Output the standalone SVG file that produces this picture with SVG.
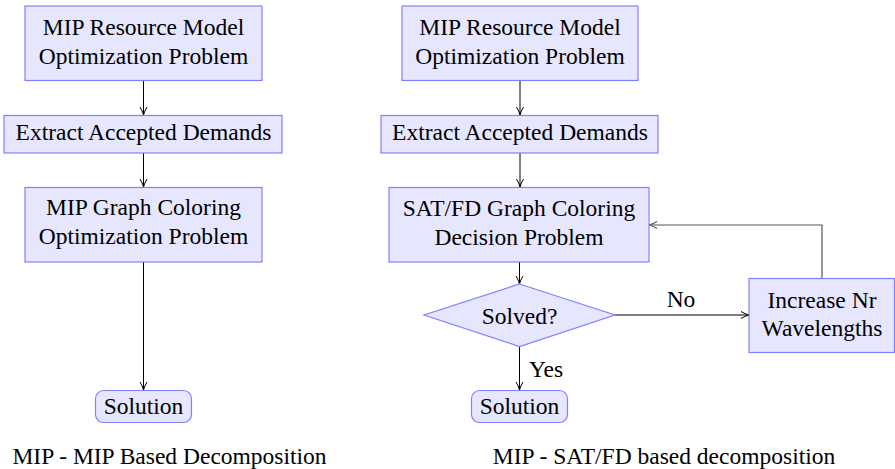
<svg xmlns="http://www.w3.org/2000/svg" width="895" height="469" viewBox="0 0 895 469">
<style>
.n{fill:#e6e6ff;stroke:#8080ff;stroke-width:1.2}
.t{font-family:'Liberation Serif','Times New Roman',Times,Tinos,'Nimbus Roman','Nimbus Roman No9 L','FreeSerif','Noto Serif','DejaVu Serif',Georgia,serif;font-size:23.5px;fill:#000;text-anchor:middle}
.c{fill:none;stroke:#000;stroke-width:1}
.g{fill:none;stroke:#555;stroke-width:1.2}
</style>
<defs>
<marker id="a" viewBox="0 0 10 10" refX="9" refY="5" markerWidth="10" markerHeight="10" markerUnits="userSpaceOnUse" orient="auto">
<path d="M1,1.5 Q5,4 9,5 Q5,6 1,8.5" fill="none" stroke="#000" stroke-width="1"/>
</marker>
<marker id="ag" viewBox="0 0 10 10" refX="9" refY="5" markerWidth="10" markerHeight="10" markerUnits="userSpaceOnUse" orient="auto">
<path d="M1,1.5 Q5,4 9,5 Q5,6 1,8.5" fill="none" stroke="#555" stroke-width="1.1"/>
</marker>
</defs>
<g id="connectors">
<path class="c" d="M143.5,81 V115" marker-end="url(#a)"/>
<path class="c" d="M143.5,153 V187" marker-end="url(#a)"/>
<path class="c" d="M143.5,262 V390" marker-end="url(#a)"/>
<path class="c" d="M520,81 V115" marker-end="url(#a)"/>
<path class="c" d="M520,153 V187" marker-end="url(#a)"/>
<path class="c" d="M519.5,262 V284" marker-end="url(#a)"/>
<path class="c" d="M615,315 H749" marker-end="url(#a)"/>
<path class="c" d="M519.5,347 V390" marker-end="url(#a)"/>
<path class="g" d="M822,278 V225 H649" marker-end="url(#ag)"/>
<text class="t" x="681" y="307">No</text>
<text class="t" x="546" y="377">Yes</text>
</g>
<g id="l1"><rect class="n" x="25" y="6" width="237" height="74.5"/><text class="t" x="143.5" y="35">MIP Resource Model</text><text class="t" x="143.5" y="64">Optimization Problem</text></g>
<g id="l2"><rect class="n" x="4" y="115.5" width="278" height="37.5"/><text class="t" x="143.5" y="139.5">Extract Accepted Demands</text></g>
<g id="l3"><rect class="n" x="25" y="187.5" width="237" height="74.5"/><text class="t" x="143.5" y="215">MIP Graph Coloring</text><text class="t" x="143.5" y="244">Optimization Problem</text></g>
<g id="l4"><rect class="n" x="95.5" y="390.5" width="96" height="32" rx="8"/><text class="t" x="143.5" y="413.5">Solution</text></g>
<g id="r1"><rect class="n" x="402" y="6" width="236" height="74.5"/><text class="t" x="520" y="35">MIP Resource Model</text><text class="t" x="520" y="64">Optimization Problem</text></g>
<g id="r2"><rect class="n" x="381" y="115.5" width="277" height="37.5"/><text class="t" x="520" y="139.5">Extract Accepted Demands</text></g>
<g id="r3"><rect class="n" x="389" y="187.5" width="260" height="74.5"/><text class="t" x="519" y="216">SAT/FD Graph Coloring</text><text class="t" x="519" y="244.5">Decision Problem</text></g>
<g id="r4"><polygon class="n" points="519.5,284 615,315 519.5,346.5 424,315"/><text class="t" x="519.5" y="323.5">Solved?</text></g>
<g id="r5"><rect class="n" x="749" y="278.5" width="145.5" height="74"/><text class="t" x="822" y="307.5">Increase Nr</text><text class="t" x="822" y="336">Wavelengths</text></g>
<g id="r6"><rect class="n" x="471.5" y="390.5" width="96" height="32" rx="8"/><text class="t" x="519.5" y="413.5">Solution</text></g>
<g id="captions">
<text class="t" x="169.5" y="463.5">MIP - MIP Based Decomposition</text>
<text class="t" x="664" y="463.5">MIP - SAT/FD based decomposition</text>
</g>
</svg>
